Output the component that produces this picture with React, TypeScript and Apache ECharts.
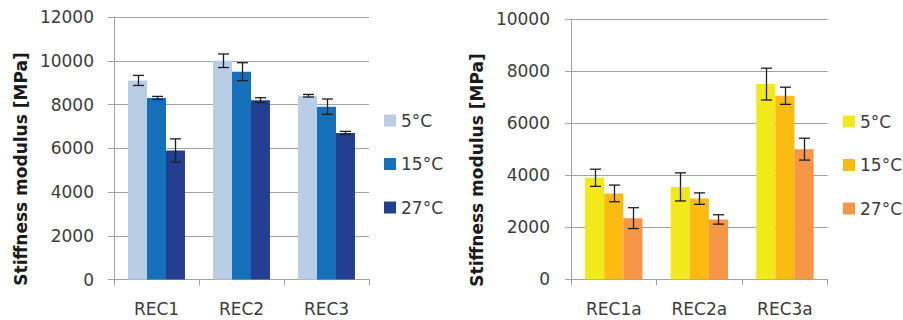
import React, { useEffect, useRef } from "react";
import * as echarts from "echarts";

const leftCategories = ["REC1", "REC2", "REC3"];
const rightCategories = ["REC1a", "REC2a", "REC3a"];
const temperatures = ["5°C", "15°C", "27°C"];

const left5 = [9100, 10000, 8400];
const left15 = [8300, 9500, 7900];
const left27 = [5900, 8200, 6700];
const left5Err = [230, 310, 60];
const left15Err = [70, 410, 350];
const left27Err = [530, 110, 70];

const right5 = [3900, 3550, 7500];
const right15 = [3300, 3100, 7050];
const right27 = [2350, 2300, 5000];
const right5Err = [330, 540, 610];
const right15Err = [320, 220, 330];
const right27Err = [400, 180, 420];

const leftMax = 12000;
const rightMax = 10000;
const tickStep = 2000;
const axisName = "Stiffness modulus [MPa]";

const leftColors = ["#B9CDE5", "#1570BA", "#243E91"];
const rightColors = ["#F2E919", "#FBBB10", "#F79646"];

const FONT = "DejaVu Sans";
const GRID_GRAY = "#A3A3A3";
const TEXT = "#3C3C3C";
const GAP = 0.33;
const RIGHT_SUFFIX = " (a)";

function errorSeries(values: number[], errs: number[], gridIdx: number, slot: number) {
  return {
    type: "custom",
    xAxisIndex: gridIdx,
    yAxisIndex: gridIdx,
    silent: true,
    z: 10,
    encode: { x: 0, y: [1, 2] },
    data: values.map((v, i) => [i, v - errs[i], v + errs[i]]),
    renderItem: (params: any, api: any) => {
      const band = api.size([1, 0])[0];
      const bw = (band * (1 - GAP)) / 3;
      const center = api.coord([api.value(0), 0])[0];
      const x = Math.round(center + (slot - 1) * bw) + 0.5;
      const yLo = api.coord([api.value(0), api.value(1)])[1];
      const yHi = api.coord([api.value(0), api.value(2)])[1];
      const cap = 5.5;
      const style = { stroke: "#1E1E1E", lineWidth: 1.3 };
      return {
        type: "group",
        children: [
          { type: "line", shape: { x1: x, y1: yLo, x2: x, y2: yHi }, style },
          { type: "line", shape: { x1: x - cap, y1: yHi, x2: x + cap, y2: yHi }, style },
          { type: "line", shape: { x1: x - cap, y1: yLo, x2: x + cap, y2: yLo }, style },
        ],
      };
    },
  };
}

function barSeries(name: string, values: number[], gridIdx: number, color: string) {
  return {
    type: "bar",
    name,
    xAxisIndex: gridIdx,
    yAxisIndex: gridIdx,
    data: values,
    barGap: "0%",
    barCategoryGap: GAP * 100 + "%",
    itemStyle: { color },
  };
}

function xAxis(cats: string[], gridIdx: number) {
  return {
    type: "category",
    gridIndex: gridIdx,
    data: cats,
    axisLine: { show: true, lineStyle: { color: GRID_GRAY, width: 1 } },
    axisTick: { show: true, length: 6, interval: 0, lineStyle: { color: GRID_GRAY } },
    axisLabel: { fontFamily: FONT, fontSize: 17, color: TEXT, margin: 21, interval: 0 },
  };
}

function yAxis(max: number, gridIdx: number, margin: number) {
  return {
    type: "value",
    gridIndex: gridIdx,
    min: 0,
    max,
    interval: tickStep,
    axisLine: { show: true, lineStyle: { color: GRID_GRAY, width: 1 } },
    axisTick: { show: true, length: 6, lineStyle: { color: GRID_GRAY } },
    splitLine: { show: true, lineStyle: { color: GRID_GRAY, width: 1 } },
    axisLabel: {
      fontFamily: FONT,
      fontSize: 17,
      color: TEXT,
      margin,
      formatter: (v: number) => String(v),
    },
  };
}

export default function App() {
  const ref = useRef<HTMLDivElement>(null);
  useEffect(() => {
    if (!ref.current) return;
    const chart = echarts.init(ref.current, undefined, { renderer: "svg" });
    const rightNames = temperatures.map((t) => t + RIGHT_SUFFIX);
    const legendText = { fontFamily: FONT, fontSize: 17, color: TEXT, lineHeight: 14 };
    const nameStyle = {
      text: axisName,
      fontFamily: FONT,
      fontWeight: "bold",
      fontSize: 17,
      fill: "#1A1A1A",
      align: "center",
      verticalAlign: "middle",
    };
    chart.setOption({
      animation: false,
      grid: [
        { left: 114, top: 17, width: 255, height: 262.5, containLabel: false },
        { left: 571, top: 19, width: 256.7, height: 260.3, containLabel: false },
      ],
      xAxis: [xAxis(leftCategories, 0), xAxis(rightCategories, 1)],
      yAxis: [yAxis(leftMax, 0, 20), yAxis(rightMax, 1, 21)],
      legend: [
        {
          orient: "vertical",
          left: 384,
          top: 112,
          padding: 0,
          itemWidth: 12,
          itemHeight: 12,
          itemGap: 26.5,
          icon: "rect",
          data: temperatures,
          textStyle: legendText,
          selectedMode: false,
        },
        {
          orient: "vertical",
          left: 843,
          top: 113,
          padding: 0,
          itemWidth: 12,
          itemHeight: 12,
          itemGap: 26.5,
          icon: "rect",
          data: rightNames,
          formatter: (n: string) => n.replace(RIGHT_SUFFIX, ""),
          textStyle: legendText,
          selectedMode: false,
        },
      ],
      graphic: [
        { type: "text", x: 21, y: 169, rotation: Math.PI / 2, style: nameStyle },
        { type: "text", x: 477, y: 170, rotation: Math.PI / 2, style: nameStyle },
      ],
      series: [
        barSeries(temperatures[0], left5, 0, leftColors[0]),
        barSeries(temperatures[1], left15, 0, leftColors[1]),
        barSeries(temperatures[2], left27, 0, leftColors[2]),
        barSeries(rightNames[0], right5, 1, rightColors[0]),
        barSeries(rightNames[1], right15, 1, rightColors[1]),
        barSeries(rightNames[2], right27, 1, rightColors[2]),
        errorSeries(left5, left5Err, 0, 0),
        errorSeries(left15, left15Err, 0, 1),
        errorSeries(left27, left27Err, 0, 2),
        errorSeries(right5, right5Err, 1, 0),
        errorSeries(right15, right15Err, 1, 1),
        errorSeries(right27, right27Err, 1, 2),
      ],
    });
    return () => chart.dispose();
  }, []);
  return (
    <div
      ref={ref}
      style={{ position: "fixed", left: 0, top: 0, width: 903, height: 320, background: "#fff" }}
    />
  );
}
